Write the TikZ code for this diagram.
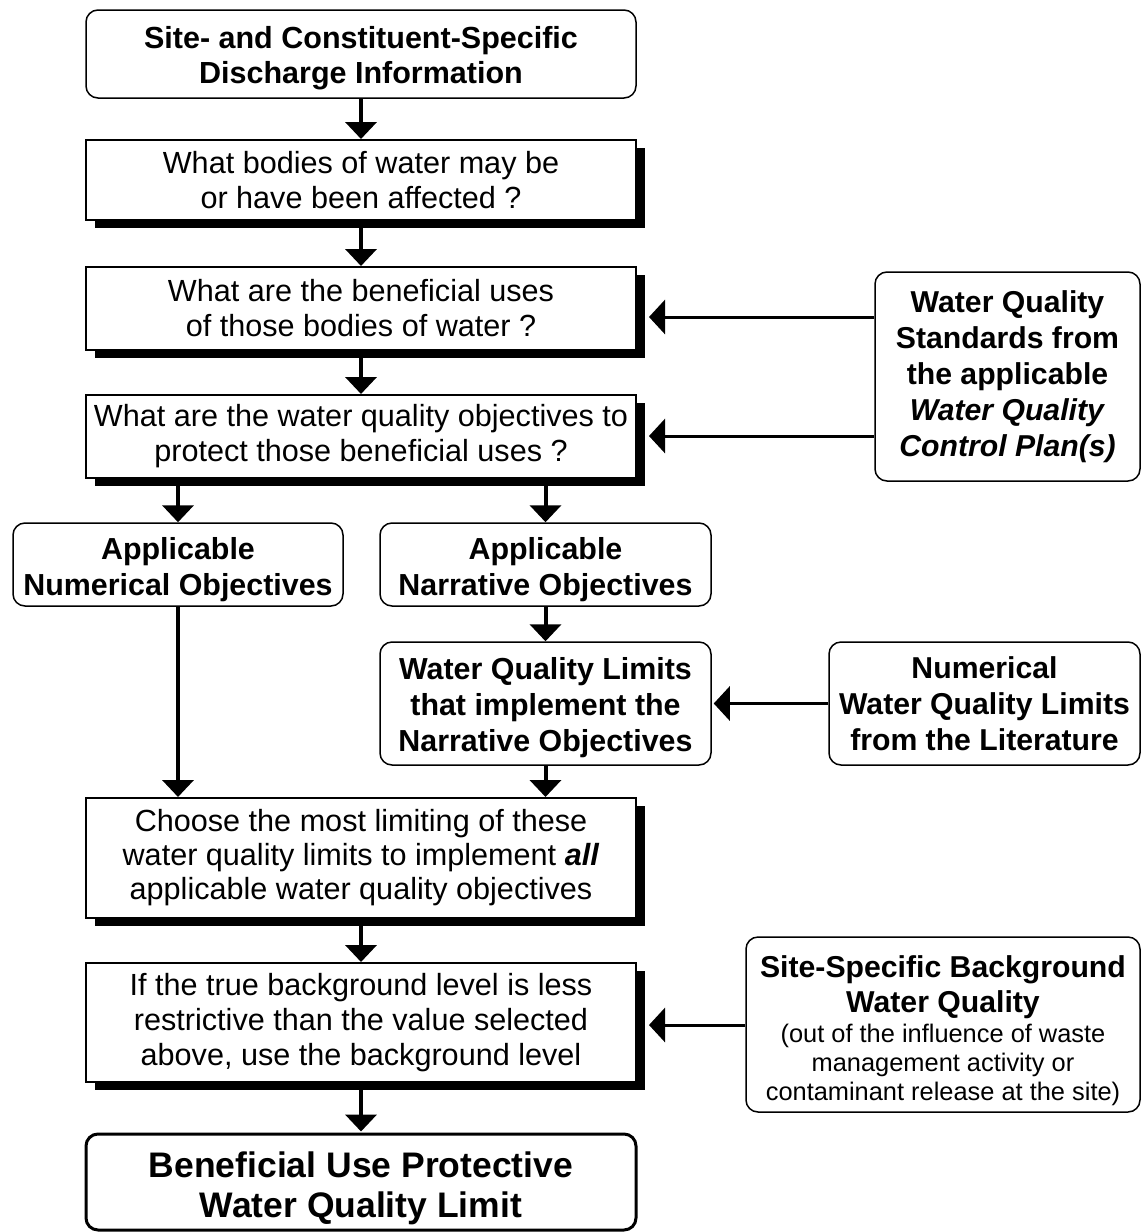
\documentclass[tikz,border=0pt]{standalone}
\usepackage{fontspec}
\setmainfont{Liberation Sans}
\newcommand\smreg{\fontsize{25.4}{29}\selectfont\mdseries}
\newcommand\toprule[1]{\rule{0pt}{#1}}
\usetikzlibrary{arrows.meta,calc,shadows}
\begin{document}
\begin{tikzpicture}[x=1pt,y=-1pt,
  box/.style={draw, line width=2pt, align=center, inner sep=0pt, fill=white},
  rbox/.style={box, rounded corners=12pt, line width=1.5pt},
  sbox/.style={box, drop shadow={shadow xshift=9pt, shadow yshift=-8pt, fill=black, opacity=1}},
  reg/.style={font=\fontsize{30.6}{35}\selectfont},
  bld/.style={font=\fontsize{30.5}{35}\selectfont\bfseries},
  nar/.style={font=\fontsize{30.4}{36}\selectfont\bfseries},
  side/.style={font=\fontsize{30.2}{36}\selectfont\bfseries},
  varr/.style={line width=4pt, -{Triangle[width=31pt,length=17pt]}},
  harr/.style={line width=3pt, -{Triangle[width=34pt,length=16pt]}}
]
\useasboundingbox (0,0) rectangle (1141,1232);

\node[rbox, bld, minimum width=550pt, minimum height=88pt] (top) at (361,54)
  {\toprule{30pt}Site- and Constituent-Specific\\Discharge Information};
\node[sbox, reg, minimum width=550pt, minimum height=80pt] (q1) at (361,180)
  {What bodies of water may be\\or have been affected ?};
\node[sbox, reg, minimum width=550pt, minimum height=83pt] (q2) at (361,308.5)
  {What are the beneficial uses\\of those bodies of water ?};
\node[sbox, reg, minimum width=550pt, minimum height=83pt] (q3) at (361,436.5)
  {What are the water quality objectives to\\protect those beneficial uses ?};
\node[rbox, nar, minimum width=330pt, minimum height=83pt] (num) at (178,564.5)
  {\toprule{32pt}Applicable\\Numerical Objectives};
\node[rbox, nar, minimum width=331pt, minimum height=83pt] (narr) at (545.5,564.5)
  {\toprule{32pt}Applicable\\Narrative Objectives};
\node[rbox, nar, minimum width=331pt, minimum height=123pt] (wql) at (545.5,703.5)
  {\toprule{30pt}Water Quality Limits\\that implement the\\Narrative Objectives};
\node[sbox, reg, font=\fontsize{30.6}{34}\selectfont, minimum width=550pt, minimum height=120pt] (choose) at (361,858)
  {Choose the most limiting of these\\water quality limits to implement \textbf{\textit{all}}\\applicable water quality objectives};
\node[sbox, reg, minimum width=550pt, minimum height=119pt] (ifb) at (361,1022.5)
  {If the true background level is less\\restrictive than the value selected\\above, use the background level};
\node[box, rounded corners=12pt, line width=3pt, font=\fontsize{35.5}{40}\selectfont\bfseries,
  minimum width=550pt, minimum height=96pt] (final) at (361,1182)
  {\toprule{38pt}Beneficial Use Protective\\Water Quality Limit};

\node[rbox, side, minimum width=265pt, minimum height=209pt] (wqs) at (1007.5,376.5)
  {Water Quality\\Standards from\\the applicable\\\textit{Water Quality}\\\textit{Control Plan(s)}};
\node[rbox, side, minimum width=311pt, minimum height=123pt] (nwql) at (984.5,703.5)
  {Numerical\\Water Quality Limits\\from the Literature};
\node[rbox, font=\fontsize{30.2}{35}\selectfont\bfseries, minimum width=394pt, minimum height=175pt] (ssb) at (943,1024.5)
  {\toprule{34pt}Site-Specific Background\\Water Quality\\[-5pt]\smreg (out of the influence of waste\\[-6pt]\smreg management activity or\\[-6pt]\smreg contaminant release at the site)};

% vertical arrows
\draw[varr] (top.south) -- (q1.north);
\draw[varr] (q1.south) -- (q2.north);
\draw[varr] (q2.south) -- (q3.north);
\draw[varr] (q3.south -| num.north) -- (num.north);
\draw[varr] (q3.south -| narr.north) -- (narr.north);
\draw[varr] (narr.south) -- (wql.north);
\draw[varr] (num.south) -- (num.south |- choose.north);
\draw[varr] (wql.south) -- (wql.south |- choose.north);
\draw[varr] (choose.south) -- (ifb.north);
\draw[varr] (ifb.south) -- ([yshift=1pt]final.north);

% side arrows
\draw[harr] (wqs.west |- 0,317) -- ($(q2.east |- 0,317)+(12,0)$);
\draw[harr] (wqs.west |- 0,436) -- ($(q3.east |- 0,436)+(12,0)$);
\draw[harr] (nwql.west) -- ($(wql.east)+(2,0)$);
\draw[harr] (ssb.west |- 0,1025) -- ($(ifb.east |- 0,1025)+(12,0)$);
\end{tikzpicture}
\end{document}
